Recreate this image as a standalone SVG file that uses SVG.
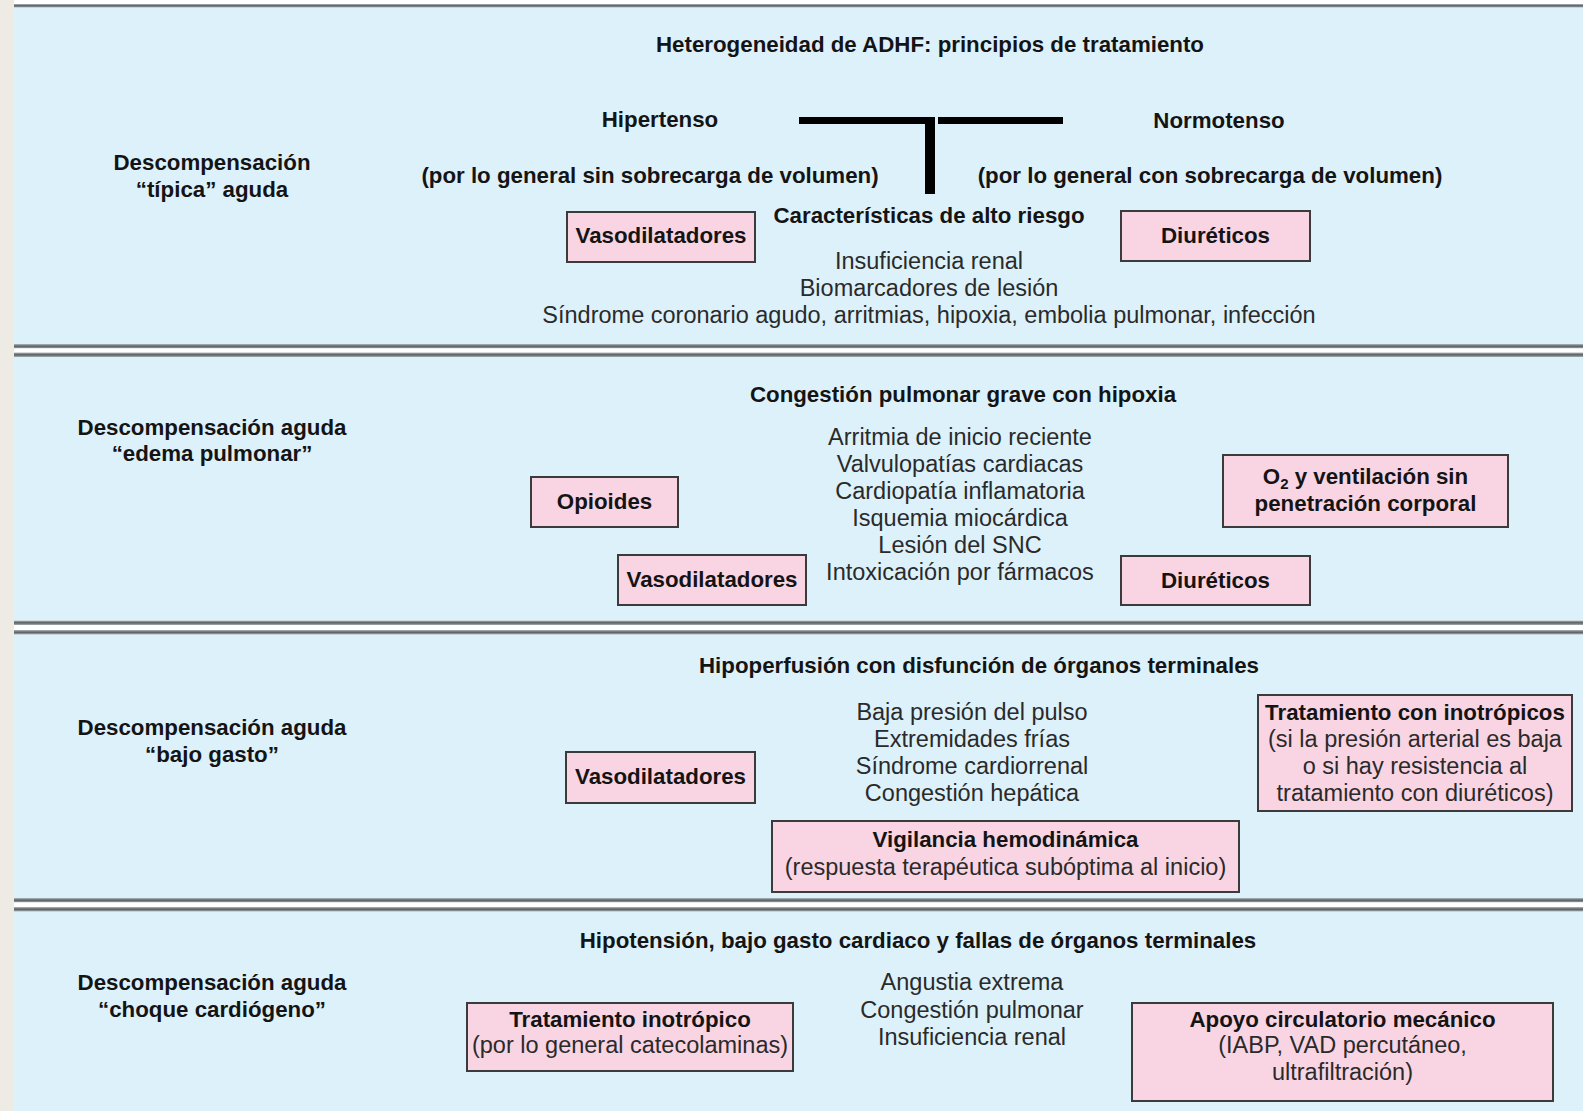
<svg xmlns="http://www.w3.org/2000/svg" width="1583" height="1111" viewBox="0 0 1583 1111">
  <defs>
    <linearGradient id="band" x1="0" y1="0" x2="0" y2="1">
      <stop offset="0" stop-color="#b3babc"/>
      <stop offset="0.5" stop-color="#555e61"/>
      <stop offset="1" stop-color="#a7afb1"/>
    </linearGradient>
    <style>
      .panel { fill: #ddf1fb; }
      .band { fill: url(#band); }
      .gap { fill: #ffffff; }
      .box { fill: #f9d5e3; stroke: #3b3b3b; stroke-width: 2; }
      .shadow { fill: #8a8a8a; }
      text { font-family: "Liberation Sans", Arial, Helvetica, sans-serif; text-anchor: middle; }
      .b { font-weight: bold; font-size: 22.3px; fill: #141414; }
      .r { font-size: 23.5px; fill: #2a2a2a; }
      .sub { font-size: 15px; }
      .bar { fill: #000000; }
    </style>
  </defs>

  <!-- page background and side margin -->
  <rect x="0" y="0" width="1583" height="1111" fill="#ffffff"/>
  <rect x="0" y="0" width="14" height="1111" fill="#eeebe4"/>

  <!-- panel backgrounds -->
  <rect class="panel" x="14" y="7.5" width="1569" height="336.5"/>
  <rect class="panel" x="14" y="357" width="1569" height="263.5"/>
  <rect class="panel" x="14" y="634.5" width="1569" height="263.5"/>
  <rect class="panel" x="14" y="911.5" width="1569" height="199.5"/>

  <!-- rules between panels -->
  <g id="rules">
    <rect class="band" x="14" y="4" width="1569" height="3.5"/>
    <rect class="band" x="14" y="344" width="1569" height="4.5"/>
    <rect class="gap" x="14" y="348.5" width="1569" height="4"/>
    <rect class="band" x="14" y="352.5" width="1569" height="4.5"/>
    <rect class="band" x="14" y="620.5" width="1569" height="4.5"/>
    <rect class="gap" x="14" y="625" width="1569" height="5"/>
    <rect class="band" x="14" y="630" width="1569" height="4.5"/>
    <rect class="band" x="14" y="898" width="1569" height="4.5"/>
    <rect class="gap" x="14" y="902.5" width="1569" height="4.5"/>
    <rect class="band" x="14" y="907" width="1569" height="4.5"/>
  </g>

  <!-- T-shaped split between hypertensive and normotensive branches -->
  <g id="connectors">
    <rect class="bar" x="799" y="117" width="136" height="7"/>
    <rect class="bar" x="938" y="117" width="125" height="7"/>
    <rect class="bar" x="925" y="117" width="10" height="77"/>
  </g>

  <!-- Panel 1: typical acute decompensation -->
  <g id="p1-title"><text class="b" x="930" y="52">Heterogeneidad de ADHF: principios de tratamiento</text></g>
  <g id="p1-label">
    <text class="b" x="212" y="170">Descompensación</text>
    <text class="b" x="212" y="197">“típica” aguda</text>
  </g>
  <g id="p1-hipertenso"><text class="b" x="660" y="127">Hipertenso</text></g>
  <g id="p1-normotenso"><text class="b" x="1219" y="128">Normotenso</text></g>
  <g id="p1-sin-sobrecarga"><text class="b" x="650" y="183">(por lo general sin sobrecarga de volumen)</text></g>
  <g id="p1-con-sobrecarga"><text class="b" x="1210" y="183">(por lo general con sobrecarga de volumen)</text></g>
  <g id="p1-riesgo">
    <text class="b" x="929" y="223">Características de alto riesgo</text>
    <text class="r" x="929" y="269">Insuficiencia renal</text>
    <text class="r" x="929" y="296">Biomarcadores de lesión</text>
    <text class="r" x="929" y="322.5">Síndrome coronario agudo, arritmias, hipoxia, embolia pulmonar, infección</text>
  </g>
  <g id="p1-vasodilatadores">
    <rect class="box" x="567" y="212" width="188" height="50"/>
    <text class="b" x="661" y="243">Vasodilatadores</text>
  </g>
  <g id="p1-diureticos">
    <rect class="box" x="1121" y="211" width="189" height="50"/>
    <text class="b" x="1215.5" y="242.5">Diuréticos</text>
  </g>

  <!-- Panel 2: pulmonary oedema -->
  <g id="p2-title"><text class="b" x="963" y="402">Congestión pulmonar grave con hipoxia</text></g>
  <g id="p2-label">
    <text class="b" x="212" y="435">Descompensación aguda</text>
    <text class="b" x="212" y="461">“edema pulmonar”</text>
  </g>
  <g id="p2-causas">
    <text class="r" x="960" y="445">Arritmia de inicio reciente</text>
    <text class="r" x="960" y="472">Valvulopatías cardiacas</text>
    <text class="r" x="960" y="499">Cardiopatía inflamatoria</text>
    <text class="r" x="960" y="526">Isquemia miocárdica</text>
    <text class="r" x="960" y="553">Lesión del SNC</text>
    <text class="r" x="960" y="580">Intoxicación por fármacos</text>
  </g>
  <g id="p2-opioides">
    <rect class="box" x="531" y="477" width="147" height="50"/>
    <text class="b" x="604.5" y="509">Opioides</text>
  </g>
  <g id="p2-vasodilatadores">
    <rect class="box" x="618" y="555" width="188" height="50"/>
    <text class="b" x="712" y="587">Vasodilatadores</text>
  </g>
  <g id="p2-diureticos">
    <rect class="box" x="1121" y="556" width="189" height="49"/>
    <text class="b" x="1215.5" y="587.5">Diuréticos</text>
  </g>
  <g id="p2-ventilacion">
    <rect class="box" x="1223" y="455" width="285" height="72"/>
    <text class="b" x="1365.5" y="484">O<tspan class="sub" dy="5">2</tspan><tspan dy="-5"> y ventilación sin</tspan></text>
    <text class="b" x="1365.5" y="511">penetración corporal</text>
  </g>

  <!-- Panel 3: low output -->
  <g id="p3-title"><text class="b" x="979" y="673">Hipoperfusión con disfunción de órganos terminales</text></g>
  <g id="p3-label">
    <text class="b" x="212" y="735">Descompensación aguda</text>
    <text class="b" x="212" y="762">“bajo gasto”</text>
  </g>
  <g id="p3-signos">
    <text class="r" x="972" y="720">Baja presión del pulso</text>
    <text class="r" x="972" y="747">Extremidades frías</text>
    <text class="r" x="972" y="773.5">Síndrome cardiorrenal</text>
    <text class="r" x="972" y="800.5">Congestión hepática</text>
  </g>
  <g id="p3-vasodilatadores">
    <rect class="box" x="566" y="752" width="189" height="51"/>
    <text class="b" x="660.5" y="784">Vasodilatadores</text>
  </g>
  <g id="p3-inotropicos">
    <rect class="box" x="1258" y="695" width="314" height="116"/>
    <text class="b" x="1415" y="720">Tratamiento con inotrópicos</text>
    <text class="r" x="1415" y="747">(si la presión arterial es baja</text>
    <text class="r" x="1415" y="774">o si hay resistencia al</text>
    <text class="r" x="1415" y="801">tratamiento con diuréticos)</text>
  </g>
  <g id="p3-vigilancia">
    <rect class="box" x="772" y="821" width="467" height="71"/>
    <text class="b" x="1005.5" y="847">Vigilancia hemodinámica</text>
    <text class="r" x="1005.5" y="875">(respuesta terapéutica subóptima al inicio)</text>
  </g>

  <!-- Panel 4: cardiogenic shock -->
  <g id="p4-title"><text class="b" x="918" y="948">Hipotensión, bajo gasto cardiaco y fallas de órganos terminales</text></g>
  <g id="p4-label">
    <text class="b" x="212" y="990">Descompensación aguda</text>
    <text class="b" x="212" y="1017">“choque cardiógeno”</text>
  </g>
  <g id="p4-signos">
    <text class="r" x="972" y="990">Angustia extrema</text>
    <text class="r" x="972" y="1018">Congestión pulmonar</text>
    <text class="r" x="972" y="1045">Insuficiencia renal</text>
  </g>
  <g id="p4-inotropico">
    <rect class="box" x="467" y="1003" width="326" height="68"/>
    <text class="b" x="630" y="1027">Tratamiento inotrópico</text>
    <text class="r" x="630" y="1053">(por lo general catecolaminas)</text>
  </g>
  <g id="p4-apoyo">
    <rect class="box" x="1132" y="1003" width="421" height="98"/>
    <text class="b" x="1342.5" y="1027">Apoyo circulatorio mecánico</text>
    <text class="r" x="1342.5" y="1053">(IABP, VAD percutáneo,</text>
    <text class="r" x="1342.5" y="1080">ultrafiltración)</text>
  </g>
</svg>
